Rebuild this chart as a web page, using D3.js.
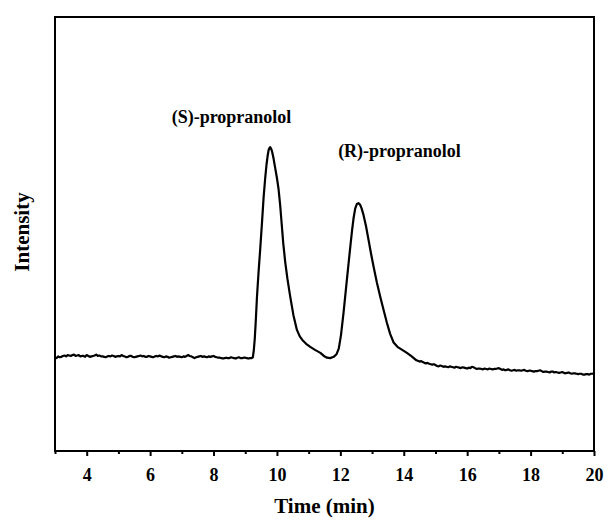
<!DOCTYPE html>
<html>
<head>
<meta charset="utf-8">
<script src="https://cdn.jsdelivr.net/npm/d3@7"></script>
<style>
  body { margin: 0; background: #fff; }
  svg text { font-family: "Liberation Serif", "Times New Roman", serif; font-weight: bold; fill: #000; }
</style>
</head>
<body>
<div id="chart"></div>
<script>
// setting up constants
const FRAME_WIDTH = 608;
const FRAME_HEIGHT = 520;
const MARGINS = {left: 55, right: 14, top: 17, bottom: 69};
const VIS_WIDTH = FRAME_WIDTH - MARGINS.left - MARGINS.right;
const VIS_HEIGHT = FRAME_HEIGHT - MARGINS.top - MARGINS.bottom;

// axis ticks
const majorTicks = [4, 6, 8, 10, 12, 14, 16, 18, 20];
const minorTicks = [3, 5, 7, 9, 11, 13, 15, 17, 19];

// chromatogram, [time (min), intensity (a.u.)]
const baselineFront = [
  [3.0, 21.6], [3.05, 21.4], [3.1, 21.8], [3.15, 21.6], [3.2, 21.7], [3.25, 21.9], [3.3, 22.0], [3.35, 21.8],
  [3.4, 22.1], [3.45, 22.0], [3.5, 21.9], [3.55, 22.1], [3.6, 22.2], [3.65, 21.9], [3.7, 22.0], [3.75, 22.1],
  [3.8, 21.8], [3.85, 21.9], [3.9, 21.9], [3.95, 21.7], [4.0, 22.1], [4.05, 21.9], [4.1, 21.7], [4.15, 21.8],
  [4.2, 21.9], [4.25, 22.0], [4.3, 22.2], [4.35, 21.9], [4.4, 22.0], [4.45, 21.8], [4.5, 21.8], [4.55, 21.7],
  [4.6, 21.6], [4.65, 21.8], [4.7, 21.9], [4.75, 21.8], [4.8, 22.0], [4.85, 21.9], [4.9, 21.7], [4.95, 21.8],
  [5.0, 21.9], [5.05, 21.8], [5.1, 22.1], [5.15, 21.9], [5.2, 21.8], [5.25, 21.6], [5.3, 21.7], [5.35, 21.9],
  [5.4, 21.9], [5.45, 21.7], [5.5, 21.6], [5.55, 21.7], [5.6, 21.8], [5.65, 21.9], [5.7, 22.0], [5.75, 21.8],
  [5.8, 21.9], [5.85, 21.7], [5.9, 21.7], [5.95, 21.9], [6.0, 21.8], [6.05, 21.7], [6.1, 21.6], [6.15, 21.8],
  [6.2, 21.9], [6.25, 21.8], [6.3, 22.0], [6.35, 21.8], [6.4, 21.7], [6.45, 21.6], [6.5, 21.8], [6.55, 21.7],
  [6.6, 21.5], [6.65, 21.6], [6.7, 21.7], [6.75, 21.8], [6.8, 21.9], [6.85, 21.7], [6.9, 21.8], [6.95, 21.7],
  [7.0, 21.6], [7.05, 21.8], [7.1, 21.7], [7.15, 21.9], [7.2, 22.1], [7.25, 21.9], [7.3, 21.8], [7.35, 21.6],
  [7.4, 21.4], [7.45, 21.6], [7.5, 21.7], [7.55, 21.8], [7.6, 21.9], [7.65, 21.7], [7.7, 21.8], [7.75, 21.7],
  [7.8, 21.6], [7.85, 21.8], [7.9, 21.7], [7.95, 21.8], [8.0, 21.9], [8.05, 21.7], [8.1, 21.6], [8.15, 21.5],
  [8.2, 21.5], [8.25, 21.4], [8.3, 21.3], [8.35, 21.4], [8.4, 21.5], [8.45, 21.4], [8.5, 21.4], [8.55, 21.6],
  [8.6, 21.5], [8.65, 21.4], [8.7, 21.3], [8.75, 21.5], [8.8, 21.6], [8.85, 21.4], [8.9, 21.4], [8.95, 21.5],
  [9.0, 21.5], [9.05, 21.4], [9.1, 21.3], [9.15, 21.4], [9.2, 21.4]
];
const peakS = [
  [9.24, 21.6], [9.27, 23.2], [9.3, 25.8], [9.33, 29.6], [9.37, 35.5], [9.42, 41.2], [9.47, 46.3], [9.53, 52.8],
  [9.58, 58.5], [9.63, 62.9], [9.67, 65.9], [9.71, 68.2], [9.74, 69.4], [9.77, 69.9], [9.79, 70.0], [9.82, 69.6],
  [9.85, 68.9], [9.89, 67.5], [9.94, 65.4], [10.0, 62.9], [10.05, 60.4], [10.1, 56.8], [10.15, 52.3],
  [10.2, 47.8], [10.26, 43.6], [10.33, 39.7], [10.42, 35.5], [10.52, 31.3], [10.63, 27.9], [10.72, 26.4],
  [10.80, 25.6], [10.92, 24.7], [11.05, 24.0], [11.2, 23.3], [11.37, 22.6], [11.48, 21.9], [11.58, 21.5]
];
const peakR = [
  [11.68, 21.4], [11.79, 21.7], [11.88, 22.3], [11.95, 23.6], [12.02, 26.7], [12.10, 31.8], [12.18, 37.6],
  [12.26, 43.3], [12.32, 47.5], [12.37, 50.9], [12.42, 53.8], [12.47, 55.9], [12.52, 56.9], [12.57, 57.1],
  [12.62, 56.8], [12.67, 55.9], [12.73, 54.4], [12.81, 51.8], [12.89, 48.6], [12.97, 45.4], [13.05, 42.4],
  [13.15, 38.9], [13.26, 35.5], [13.37, 32.3], [13.47, 29.5], [13.57, 27.0], [13.68, 25.0], [13.8, 24.0],
  [13.95, 23.3], [14.10, 22.6], [14.25, 21.8], [14.4, 20.9]
];
const baselineTail = [
  [14.5, 20.6], [14.55, 20.7], [14.6, 20.5], [14.65, 20.3], [14.7, 20.2], [14.75, 20.3], [14.8, 20.1],
  [14.85, 20.0], [14.9, 19.9], [14.95, 20.0], [15.0, 19.8], [15.05, 19.6], [15.1, 19.5], [15.15, 19.7],
  [15.2, 19.6], [15.25, 19.4], [15.3, 19.5], [15.35, 19.4], [15.4, 19.3], [15.45, 19.5], [15.5, 19.4],
  [15.55, 19.3], [15.6, 19.2], [15.65, 19.4], [15.7, 19.3], [15.75, 19.2], [15.8, 19.1], [15.85, 19.3],
  [15.9, 19.2], [15.95, 19.1], [16.0, 19.0], [16.05, 19.2], [16.1, 19.1], [16.15, 19.4], [16.2, 19.3],
  [16.25, 19.1], [16.3, 18.9], [16.35, 19.0], [16.4, 19.0], [16.45, 18.9], [16.5, 18.8], [16.55, 19.0],
  [16.6, 18.9], [16.65, 18.8], [16.7, 19.0], [16.75, 18.9], [16.8, 18.8], [16.85, 18.9], [16.9, 18.9],
  [16.95, 19.0], [17.0, 19.1], [17.05, 18.9], [17.1, 18.7], [17.15, 18.8], [17.2, 18.6], [17.25, 18.7],
  [17.3, 18.8], [17.35, 18.6], [17.4, 18.5], [17.45, 18.6], [17.5, 18.7], [17.55, 18.5], [17.6, 18.6],
  [17.65, 18.6], [17.7, 18.5], [17.75, 18.6], [17.8, 18.7], [17.85, 18.5], [17.9, 18.4], [17.95, 18.5],
  [18.0, 18.5], [18.05, 18.4], [18.1, 18.3], [18.15, 18.4], [18.2, 18.4], [18.25, 18.5], [18.3, 18.6],
  [18.35, 18.4], [18.4, 18.2], [18.45, 18.3], [18.5, 18.3], [18.55, 18.2], [18.6, 18.1], [18.65, 18.3],
  [18.7, 18.3], [18.75, 18.1], [18.8, 18.2], [18.85, 18.1], [18.9, 18.0], [18.95, 18.1], [19.0, 18.2],
  [19.05, 18.0], [19.1, 17.9], [19.15, 18.0], [19.2, 18.1], [19.25, 17.9], [19.3, 17.8], [19.35, 17.9],
  [19.4, 17.9], [19.45, 17.8], [19.5, 17.7], [19.55, 17.8], [19.6, 17.8], [19.65, 17.6], [19.7, 17.6],
  [19.75, 17.7], [19.8, 17.7], [19.85, 17.6], [19.9, 17.8], [19.95, 17.8], [20.0, 17.9]
];

// peak labels: [text, time, intensity]
const peakLabels = [
  ["(S)-propranolol", 6.68, 75.5],
  ["(R)-propranolol", 11.93, 67.7]
];

const FRAME =
    d3.select('#chart')
        .append('svg')
            .attr('width', FRAME_WIDTH)
            .attr('height', FRAME_HEIGHT)
        .append('g')
        .attr("transform", "translate(" + MARGINS.left + "," + MARGINS.top + ")");

const xScale = d3.scaleLinear()
    .domain([3, 20])
    .range([0, VIS_WIDTH]);

const yScale = d3.scaleLinear()
    .domain([0, 100])
    .range([VIS_HEIGHT, 0]);

// minor ticks
FRAME.append("g")
    .attr("transform", "translate(0," + VIS_HEIGHT + ")")
    .call(d3.axisBottom(xScale).tickValues(minorTicks).tickSize(3).tickFormat(""))
    .call(g => g.select(".domain").remove())
    .call(g => g.selectAll("line").attr("stroke-width", 2));

// major ticks + labels
FRAME.append("g")
    .attr("transform", "translate(0," + VIS_HEIGHT + ")")
    .call(d3.axisBottom(xScale).tickValues(majorTicks).tickSize(5).tickPadding(12))
    .call(g => g.select(".domain").remove())
    .call(g => g.selectAll("line").attr("stroke-width", 2))
    .call(g => g.selectAll("text").attr("font-size", 18));

// frame box
FRAME.append("rect")
    .attr("x", 0)
    .attr("y", 0)
    .attr("width", VIS_WIDTH)
    .attr("height", VIS_HEIGHT)
    .attr("fill", "none")
    .attr("stroke", "#000")
    .attr("stroke-width", 2);

// the trace
const trace = baselineFront.concat(peakS, peakR, baselineTail);
const line = d3.line()
    .x(d => xScale(d[0]))
    .y(d => yScale(d[1]));

FRAME.append("path")
    .datum(trace)
    .attr("d", line)
    .attr("fill", "none")
    .attr("stroke", "#000")
    .attr("stroke-width", 2.2)
    .attr("stroke-linejoin", "round");

// peak labels
FRAME.selectAll(".peak-label")
    .data(peakLabels)
    .enter()
    .append("text")
        .attr("class", "peak-label")
        .attr("x", d => xScale(d[1]))
        .attr("y", d => yScale(d[2]))
        .attr("font-size", 18)
        .text(d => d[0]);

// axis titles
FRAME.append("text")
    .attr("x", VIS_WIDTH / 2)
    .attr("y", VIS_HEIGHT + 62)
    .attr("text-anchor", "middle")
    .attr("font-size", 21)
    .text("Time (min)");

FRAME.append("text")
    .attr("transform", "translate(" + (-26) + "," + (232 - MARGINS.top) + ") rotate(-90)")
    .attr("text-anchor", "middle")
    .attr("font-size", 21)
    .text("Intensity");
</script>
</body>
</html>
